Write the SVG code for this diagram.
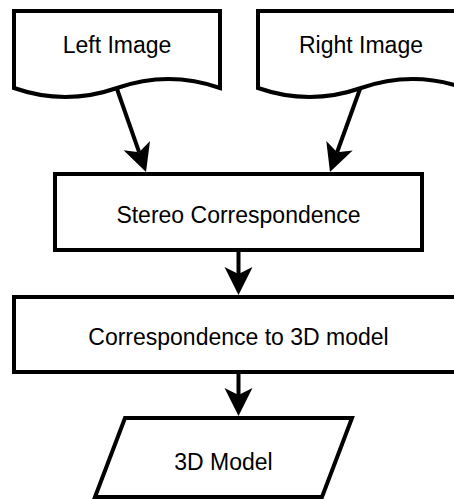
<svg xmlns="http://www.w3.org/2000/svg" width="454" height="499" viewBox="0 0 454 499">
  <style>
    .shape { fill: #ffffff; stroke: #000000; stroke-width: 4; stroke-linejoin: miter; }
    .label { font-family: "Liberation Sans", Arial, sans-serif; font-size: 23px; fill: #000000; text-anchor: middle; }
    .edge { fill: none; stroke: #000000; stroke-width: 4; }
  </style>
  <defs>
    <!-- classic notched arrowhead, 28 long and 28 wide; line ends at the notch -->
    <marker id="arrow" markerUnits="userSpaceOnUse" markerWidth="32" markerHeight="32" viewBox="-2 -16 32 32" refX="7" refY="0" orient="auto">
      <path d="M28,0 L0,-14 L7,0 L0,14 Z" fill="#000000"/>
    </marker>
  </defs>

  <rect width="454" height="499" fill="#ffffff"/>

  <!-- input documents -->
  <g id="left-image">
    <path class="shape" d="M14,11 H220 V88 Q168.5,70 117,88 Q65.5,106 14,88 Z"/>
    <text class="label" x="117" y="53">Left Image</text>
  </g>
  <g id="right-image">
    <path class="shape" d="M258,11 H464 V88 Q412.5,70 361,88 Q309.5,106 258,88 Z"/>
    <text class="label" x="361" y="53">Right Image</text>
  </g>

  <!-- processing steps -->
  <g id="stereo-correspondence">
    <rect class="shape" x="55" y="174" width="367" height="76"/>
    <text class="label" x="238.5" y="223">Stereo Correspondence</text>
  </g>
  <g id="correspondence-to-model">
    <rect class="shape" x="14" y="297" width="449" height="75"/>
    <text class="label" x="238.5" y="345">Correspondence to 3D model</text>
  </g>

  <!-- output -->
  <g id="model-output">
    <path class="shape" d="M125,418 H352 L322,497 H95 Z"/>
    <text class="label" x="223.5" y="470">3D Model</text>
  </g>

  <!-- connectors -->
  <g id="connectors">
    <path class="edge" d="M117,89 L139.1,152.2" marker-end="url(#arrow)"/>
    <path class="edge" d="M360,89 L337.1,152.3" marker-end="url(#arrow)"/>
    <path class="edge" d="M238.5,252 V274" marker-end="url(#arrow)"/>
    <path class="edge" d="M238.5,374 V395" marker-end="url(#arrow)"/>
  </g>
</svg>
